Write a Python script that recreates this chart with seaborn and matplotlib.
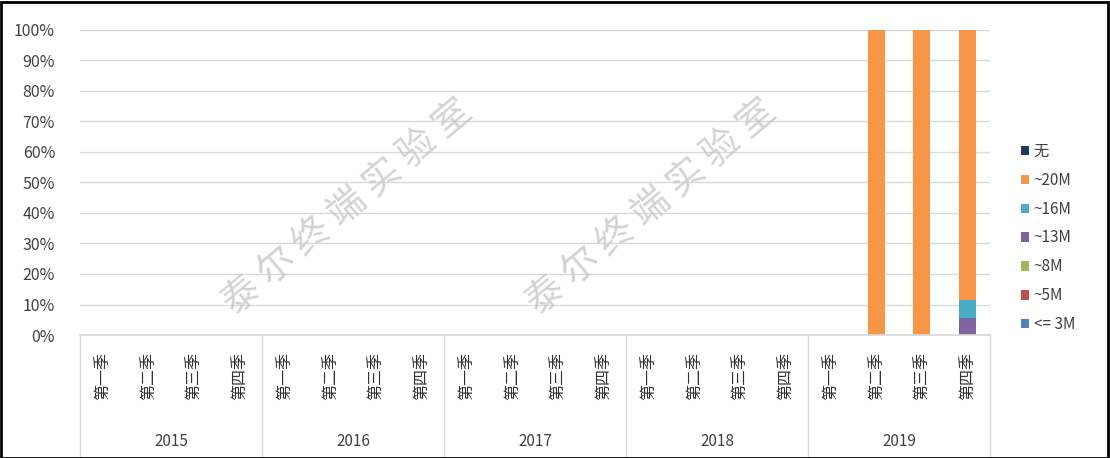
import numpy as np
import pandas as pd
import matplotlib
matplotlib.use('Agg')
import matplotlib.pyplot as plt
import matplotlib.transforms as mtransforms
from matplotlib.patches import Patch, Rectangle
import seaborn as sns

# ---- data ----
years = ['2015', '2016', '2017', '2018', '2019']
quarters = ['第一季', '第二季', '第三季', '第四季']

# stacked from bottom to top (percent of shipments)
series_names = ['<= 3M', '~5M', '~8M', '~13M', '~16M', '~20M', '无']
series_colors = ['#4F81BD', '#C0504D', '#9BBB59', '#8064A2', '#4BACC6', '#F79646', '#1F3864']

zeros16 = [0] * 16
le3m = zeros16 + [0, 0, 0, 0]
m5 = zeros16 + [0, 0, 0, 0]
m8 = zeros16 + [0, 0, 0, 0]
m13 = zeros16 + [0, 0, 0, 5.5]
m16 = zeros16 + [0, 0, 0, 6.0]
m20 = zeros16 + [0, 100, 100, 88.5]
none_ = zeros16 + [0, 0, 0, 0]
series_values = [le3m, m5, m8, m13, m16, m20, none_]

# ---- figure ----
sns.set_theme(style='white')
plt.rcParams['font.family'] = ['Noto Sans CJK SC', 'DejaVu Sans']

fig = plt.figure(figsize=(11.1, 4.58), dpi=100)
ax = fig.add_axes([80 / 1110, 1 - 335 / 458, 910 / 1110, 305 / 458])

keys = [f'{y}-{q}' for y in years for q in quarters]
cum = np.cumsum(np.array(series_values, dtype=float), axis=0)

# draw tallest cumulative first so lower layers sit on top
for i in range(len(series_names) - 1, -1, -1):
    df = pd.DataFrame({'cat': keys, 'val': cum[i]})
    sns.barplot(data=df, x='cat', y='val', order=keys, color=series_colors[i],
                saturation=1, width=0.37, errorbar=None, ax=ax, linewidth=0)

ax.set_ylim(0, 100)
ax.set_xlim(-0.5, len(keys) - 0.5)
ax.set_yticks(np.arange(0, 101, 10))
ax.set_yticklabels([f'{v}%' for v in range(0, 101, 10)], fontsize=11.5, color='#404040')
ax.yaxis.grid(True, color='#d9d9d9', linewidth=1)
ax.set_axisbelow(True)
ax.set_xlabel('')
ax.set_ylabel('')
for s in ['top', 'right', 'left']:
    ax.spines[s].set_visible(False)
ax.spines['bottom'].set_color('#d9d9d9')
ax.tick_params(axis='y', length=0, pad=18)
ax.tick_params(axis='x', length=0, pad=12)
ax.set_xticks(range(len(keys)))
ax.set_xticklabels(quarters * len(years), rotation=90, fontsize=11.5, color='#303030')

# multi-level category axis: year labels + separators
trans = mtransforms.blended_transform_factory(ax.transData, ax.transAxes)
for j, y in enumerate(years):
    center = j * 4 + 1.5
    ax.text(center, -0.35, y, transform=trans, ha='center', va='center',
            fontsize=11, color='#404040')
for j in range(len(years) + 1):
    xb = j * 4 - 0.5
    ax.plot([xb, xb], [0, -0.41], transform=trans, color='#d9d9d9',
            linewidth=1, clip_on=False)

# watermarks
for wx in [348, 652]:
    fig.text(wx / 1110, 1 - 208 / 458, '泰 尔 终 端 实 验 室', rotation=40,
             ha='center', va='center', fontsize=27, color='#c8c8c8', alpha=0.8)

# legend (top to bottom reverse of stack)
handles = [Patch(facecolor=c, edgecolor='none') for c in series_colors[::-1]]
fig.legend(handles, series_names[::-1], loc='center left',
           bbox_to_anchor=(1007 / 1110, 1 - 238 / 458), frameon=False,
           fontsize=11, handlelength=0.55, handleheight=0.55, handletextpad=0.3,
           labelspacing=0.78, labelcolor='#404040')

# outer border
fig.patches.append(Rectangle((0.001, 0.0), 0.997, 0.996, transform=fig.transFigure,
                             fill=False, edgecolor='black', linewidth=2))

fig.savefig('out.png', dpi=100)
